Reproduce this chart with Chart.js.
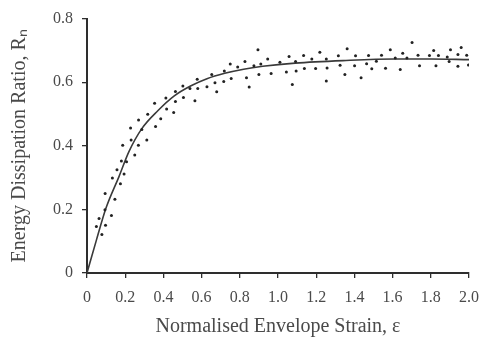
<!DOCTYPE html>
<html><head><meta charset="utf-8">
<script src="https://cdn.jsdelivr.net/npm/chart.js@4"></script>
<style>html,body{margin:0;padding:0;background:#fff}#w{width:489px;height:342px}</style>
</head><body><div id="w"><canvas id="c"></canvas></div>
<script>
const xTickLabels = ["0","0.2","0.4","0.6","0.8","1.0","1.2","1.4","1.6","1.8","2.0"];
const yTickLabels = ["0","0.2","0.4","0.6","0.8"];
const scatterX = [0.049,0.063,0.078,0.097,0.094,0.095,0.128,0.146,0.133,0.157,0.175,0.180,0.194,0.207,0.187,0.231,0.250,0.269,0.313,
 0.228,0.270,0.287,0.359,0.318,0.386,0.354,0.417,0.454,0.413,0.463,0.463,0.505,0.502,0.539,0.565,0.577,0.580,0.628,0.653,0.670,0.679,
 0.716,0.719,0.750,0.755,0.789,0.827,0.835,0.849,0.874,0.895,0.900,0.910,0.946,0.964,1.010,1.044,1.058,1.075,1.092,1.095,1.134,1.138,
 1.177,1.197,1.219,1.253,1.257,1.253,1.316,1.325,1.350,1.362,1.401,1.406,1.435,1.464,1.474,1.491,1.515,1.542,1.563,1.588,1.614,1.640,
 1.653,1.675,1.702,1.733,1.741,1.793,1.815,1.827,1.840,1.886,1.896,1.903,1.942,1.942,1.959,1.988,1.997];
const scatterY = [0.146,0.171,0.121,0.150,0.199,0.250,0.181,0.232,0.299,0.325,0.281,0.352,0.311,0.350,0.402,0.418,0.371,0.402,0.418,
 0.456,0.481,0.451,0.461,0.499,0.485,0.534,0.516,0.505,0.550,0.539,0.571,0.552,0.588,0.580,0.542,0.609,0.580,0.586,0.624,0.598,0.570,
 0.602,0.635,0.657,0.612,0.648,0.665,0.614,0.585,0.652,0.702,0.624,0.657,0.673,0.627,0.663,0.632,0.681,0.593,0.665,0.635,0.684,0.643,
 0.673,0.643,0.694,0.673,0.645,0.604,0.683,0.653,0.624,0.705,0.652,0.683,0.614,0.658,0.684,0.642,0.666,0.685,0.644,0.702,0.676,0.640,
 0.691,0.676,0.725,0.685,0.652,0.684,0.700,0.652,0.684,0.679,0.665,0.702,0.687,0.650,0.709,0.685,0.654];
const curveX = [0,0.05,0.1,0.168,0.219,0.287,0.372,0.457,0.542,0.628,0.721,0.82,0.92,1.09,1.34,1.61,1.8,2.0];
const curveY = [0,0.105,0.205,0.304,0.381,0.454,0.511,0.557,0.588,0.611,0.628,0.641,0.650,0.660,0.668,0.673,0.673,0.671];

const axisColor = '#2e2e2e';
const fam = '"Liberation Serif", "Times New Roman", serif';
const font = {family:fam, size:16};
new Chart(document.getElementById('c'), {
  type:'scatter',
  data:{datasets:[
    {data:scatterX.map((x,i)=>({x:x,y:scatterY[i]})), pointRadius:1.5, pointBackgroundColor:'#222', pointBorderWidth:0, showLine:false},
    {data:curveX.map((x,i)=>({x:x,y:curveY[i]})), showLine:true, pointRadius:0, borderColor:'#3a3a3a', borderWidth:1.6, cubicInterpolationMode:'monotone', fill:false}
  ]},
  options:{
    responsive:true, maintainAspectRatio:false, animation:false,
    layout:{padding:{left:0,right:10,top:15,bottom:0}},
    plugins:{legend:{display:false}, tooltip:{enabled:false}},
    scales:{
      x:{type:'linear', min:0, max:2,
        afterFit:s=>{s.height=69;},
        afterBuildTicks:s=>{s.ticks=xTickLabels.map(v=>({value:parseFloat(v)}));},
        ticks:{callback:(v,i)=>xTickLabels[i], color:'#4a4a4a', font:font, padding:10, maxRotation:0, autoSkip:false},
        grid:{drawOnChartArea:false, tickLength:5, color:axisColor, lineWidth:1.3},
        border:{color:axisColor, width:2},
        title:{display:true, text:'Normalised Envelope Strain, ε', color:'#4a4a4a', font:{family:fam,size:20}, padding:{top:3,bottom:3}}
      },
      y:{type:'linear', min:0, max:0.8,
        afterFit:s=>{s.width=87;},
        afterBuildTicks:s=>{s.ticks=yTickLabels.map(v=>({value:parseFloat(v)}));},
        ticks:{callback:(v,i)=>yTickLabels[i], color:'#4a4a4a', font:font, padding:9},
        grid:{drawOnChartArea:false, tickLength:5, color:axisColor, lineWidth:1.3},
        border:{color:axisColor, width:2},
        title:{display:true, text:'Energy Dissipation Ratio, Rₙ', color:'#4a4a4a', font:{family:fam,size:20}, padding:{top:8,bottom:8}}
      }
    }
  }
});
</script></body></html>
